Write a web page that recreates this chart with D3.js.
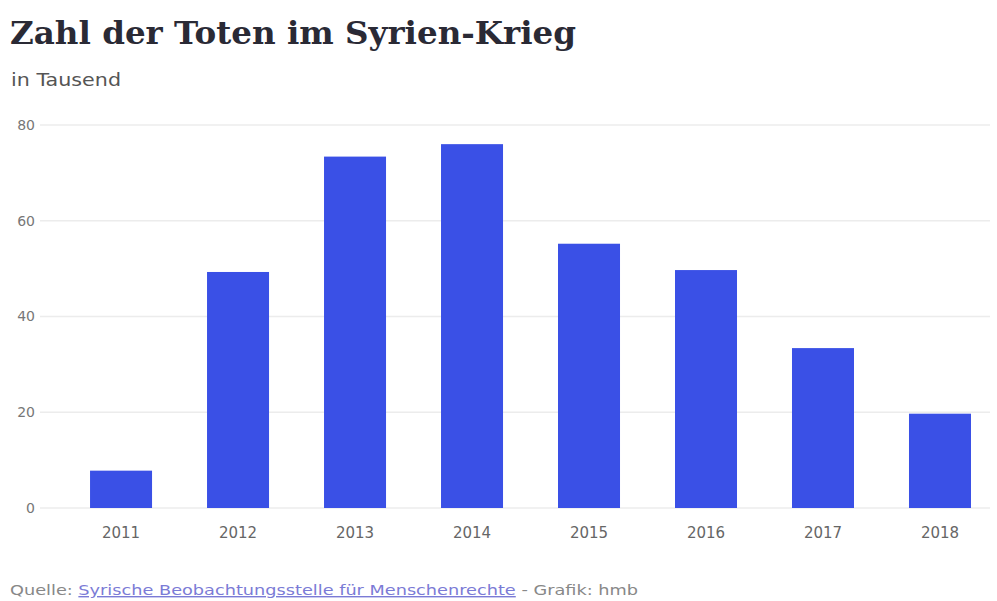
<!DOCTYPE html>
<html><head><meta charset="utf-8">
<script src="https://cdn.jsdelivr.net/npm/d3@7"></script>
<style>body{margin:0;background:#fff;} svg{display:block;}</style>
</head><body>
<script>
const years = ["2011","2012","2013","2014","2015","2016","2017","2018"];
const deaths = [7.8, 49.3, 73.4, 76.0, 55.2, 49.7, 33.4, 19.7];
const yTicks = [0, 20, 40, 60, 80];
const title = "Zahl der Toten im Syrien-Krieg";
const subtitle = "in Tausend";
const sourceLabel = "Quelle: ";
const sourceLink = "Syrische Beobachtungsstelle für Menschenrechte";
const credit = " - Grafik: hmb";

const W = 997, H = 601;
const svg = d3.select("body").append("svg").attr("width", W).attr("height", H);

svg.append("text").attr("x", 10).attr("y", 44)
  .attr("font-family", "'DejaVu Serif', serif").attr("font-weight", "bold")
  .attr("font-size", 31).attr("fill", "#2a2a35")
  .attr("textLength", 566).attr("lengthAdjust", "spacingAndGlyphs").text(title);
svg.append("text").attr("x", 11).attr("y", 86)
  .attr("font-family", "'DejaVu Sans', sans-serif").attr("font-size", 17)
  .attr("fill", "#555").attr("textLength", 110).attr("lengthAdjust", "spacingAndGlyphs")
  .text(subtitle);

const y = d3.scaleLinear().domain([0, 80]).range([508, 125]);
const x = d3.scaleBand().domain(years).range([40, 997])
  .paddingInner(0.47).paddingOuter(0.325).align(0.658);

const grid = svg.append("g");
grid.selectAll("line").data(yTicks).join("line")
  .attr("x1", 40).attr("x2", 990)
  .attr("y1", d => y(d)).attr("y2", d => y(d))
  .attr("stroke", "#ececec").attr("stroke-width", 1.5);

const yAxis = svg.append("g").attr("transform", "translate(35,0)")
  .call(d3.axisLeft(y).tickValues(yTicks).tickSize(0).tickPadding(0));
yAxis.select(".domain").remove();
yAxis.selectAll("text").attr("font-family", "'DejaVu Sans', sans-serif")
  .attr("font-size", 14).attr("fill", "#777");

svg.append("g").selectAll("rect").data(years).join("rect")
  .attr("x", d => x(d)).attr("width", x.bandwidth())
  .attr("y", (d, i) => y(deaths[i]))
  .attr("height", (d, i) => y(0) - y(deaths[i]))
  .attr("fill", "#3a50e6");

const xAxis = svg.append("g").attr("transform", "translate(0,522)")
  .call(d3.axisBottom(x).tickSize(0).tickPadding(5));
xAxis.select(".domain").remove();
xAxis.selectAll("text").attr("font-family", "'DejaVu Sans', sans-serif")
  .attr("font-size", 15).attr("fill", "#666");

const foot = svg.append("text").attr("x", 10).attr("y", 595)
  .attr("font-family", "'DejaVu Sans', sans-serif").attr("font-size", 14).attr("fill", "#888")
  .attr("textLength", 628).attr("lengthAdjust", "spacingAndGlyphs");
foot.append("tspan").text(sourceLabel);
foot.append("tspan").attr("fill", "#7b7bd6").attr("text-decoration", "underline").text(sourceLink);
foot.append("tspan").text(credit);
</script>
</body></html>
